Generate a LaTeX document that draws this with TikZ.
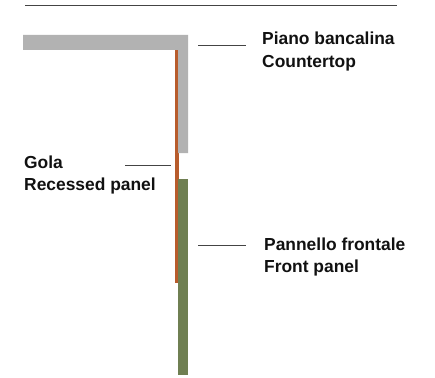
\documentclass[tikz,border=0pt]{standalone}
\usepackage{fontspec}
\setmainfont{Liberation Sans}
\definecolor{topgrey}{HTML}{B2B2B2}
\definecolor{recess}{HTML}{B85C2C}
\definecolor{panel}{HTML}{6F7F52}
\definecolor{ink}{HTML}{111111}
\definecolor{leader}{HTML}{444444}
\tikzset{
  lab/.style={anchor=base west,inner sep=0pt,font=\fontsize{17.4}{20}\selectfont\bfseries,text=ink},
  leaderline/.style={draw=leader,line width=0.9pt}
}
\begin{document}
\begin{tikzpicture}[x=1pt,y=-1pt]
\useasboundingbox (0,0) rectangle (435,377);
\fill[white] (0,0) rectangle (435,377);
% shapes
\fill[recess] (175,50) rectangle (178,283);
\fill[recess] (178,153) rectangle (179,179);
\fill[topgrey] (23,35) -- (188,35) -- (188,153) -- (178,153) -- (178,50) -- (23,50) -- cycle;
\fill[panel] (178,179) rectangle (188,375);
% coordinates and rules
\coordinate (ruleL) at (25,5);
\coordinate (ruleR) at (397,5);
\coordinate (ctA) at (198,45);
\coordinate (ctB) at (246,45);
\coordinate (golaA) at (125,165.5);
\coordinate (golaB) at (171,165.5);
\coordinate (fpA) at (198,245);
\coordinate (fpB) at (246,245);
\draw[leaderline] (ruleL) -- (ruleR);
\draw[leaderline] (ctA) -- (ctB);
\draw[leaderline] (golaA) -- (golaB);
\draw[leaderline] (fpA) -- (fpB);
% labels
\node[lab] (piano) at (262,45) {Piano bancalina};
\node[lab] (counter) at (262,68) {Countertop};
\node[lab] (gola) at (24,168) {Gola};
\node[lab] (recessed) at (24,190) {Recessed panel};
\node[lab] (pann) at (264,250) {Pannello frontale};
\node[lab] (front) at (264,272.5) {Front panel};
\end{tikzpicture}
\end{document}
